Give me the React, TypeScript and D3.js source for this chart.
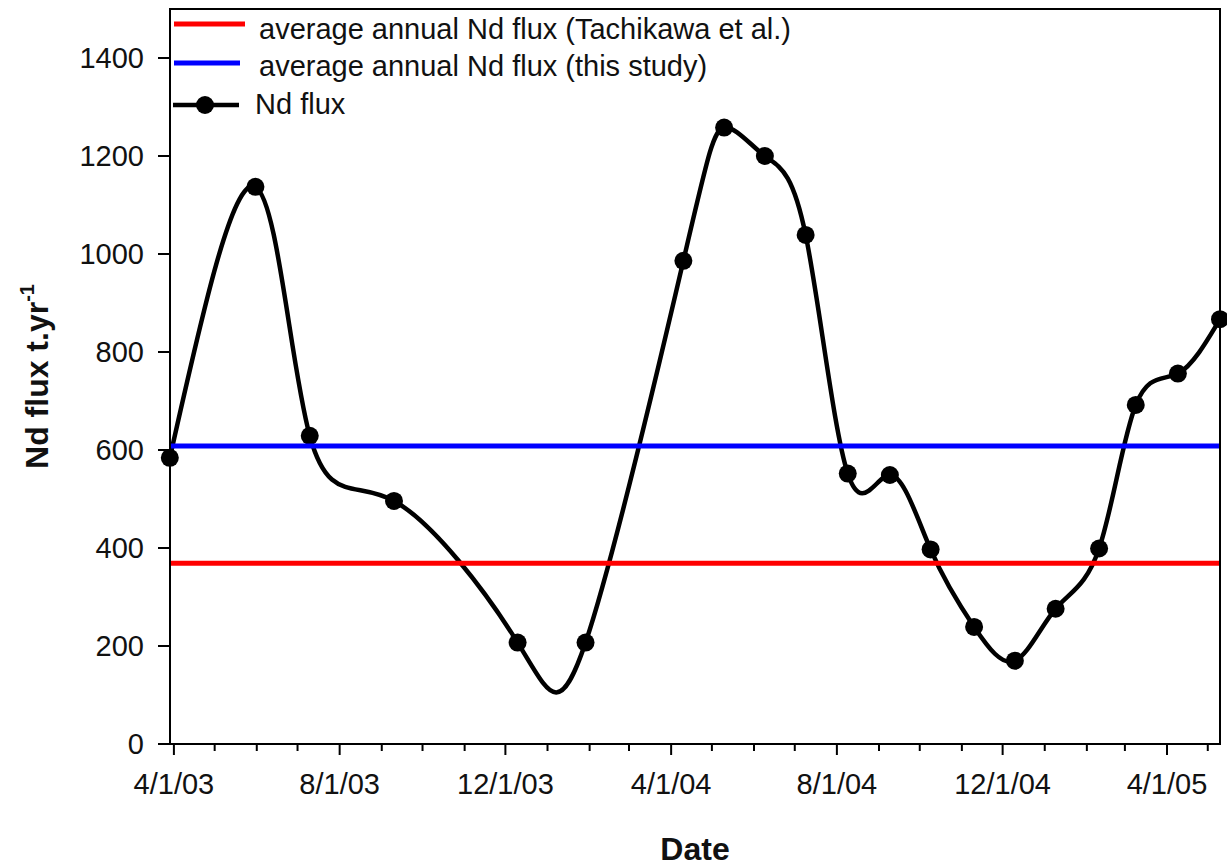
import React from "react";
import * as d3 from "d3";

const dates: string[] = [
  "2003-03-29", "2003-05-31", "2003-07-10", "2003-09-10", "2003-12-10",
  "2004-01-29", "2004-04-10", "2004-05-10", "2004-06-09", "2004-07-09",
  "2004-08-09", "2004-09-09", "2004-10-09", "2004-11-10", "2004-12-10",
  "2005-01-09", "2005-02-10", "2005-03-09", "2005-04-09", "2005-05-10",
];
const ndFlux: number[] = [
  584, 1137, 629, 496, 207, 207, 986, 1258, 1200, 1039,
  552, 549, 397, 239, 170, 276, 399, 692, 756, 867,
];
const avgTachikawa = 369;
const avgThisStudy = 608;
const yTicks: number[] = [0, 200, 400, 600, 800, 1000, 1200, 1400];
const xLabelDates: string[] = ["2003-04-01", "2003-08-01", "2003-12-01", "2004-04-01", "2004-08-01", "2004-12-01", "2005-04-01"];
const legendLabels: string[] = [
  "average annual Nd flux (Tachikawa et al.)",
  "average annual Nd flux (this study)",
  "Nd flux",
];

const W = 1227;
const H = 867;
const L = 170, R = 1220, T = 9, B = 744;
const FONT = "Arial, 'Liberation Sans', Helvetica, sans-serif";

const parse = (s: string) => new Date(s + "T00:00:00Z");

export default function App() {
  const x = d3
    .scaleUtc()
    .domain([new Date("2003-03-29T03:00:00Z"), parse("2005-05-10")])
    .range([L, R]);
  const y = d3.scaleLinear().domain([0, 1500]).range([B, T]);

  const pts = dates.map((d, i) => ({ d: parse(d), v: ndFlux[i] }));
  const line = d3
    .line<{ d: Date; v: number }>()
    .x((p) => x(p.d))
    .y((p) => y(p.v))
    .curve(d3.curveNatural);

  const monthTicks = d3.utcMonth.range(parse("2003-04-01"), parse("2005-05-02"));
  const majorSet = new Set(xLabelDates.map((s) => parse(s).getTime()));
  const fmt = (dt: Date) => `${dt.getUTCMonth() + 1}/${dt.getUTCDate()}/${String(dt.getUTCFullYear()).slice(2)}`;

  return (
    <svg width={W} height={H} style={{ position: "absolute", left: 0, top: 0, background: "#fff" }} fontFamily={FONT}>
      <rect x={0} y={0} width={W} height={H} fill="#fff" />
      {/* curve */}
      <path d={line(pts) || ""} fill="none" stroke="#000" strokeWidth={4.5} strokeLinejoin="round" />
      {pts.map((p, i) => (
        <circle key={i} cx={x(p.d)} cy={y(p.v)} r={9} fill="#000" />
      ))}
      {/* average lines */}
      <line x1={L} x2={R} y1={y(avgThisStudy)} y2={y(avgThisStudy)} stroke="#0000ff" strokeWidth={5} />
      <line x1={L} x2={R} y1={y(avgTachikawa)} y2={y(avgTachikawa)} stroke="#ff0000" strokeWidth={5} />
      {/* frame */}
      <rect x={L} y={T} width={R - L} height={B - T} fill="none" stroke="#000" strokeWidth={2} />
      {/* y axis ticks */}
      {yTicks.map((t) => (
        <g key={t}>
          <line x1={L - 12} x2={L} y1={y(t)} y2={y(t)} stroke="#000" strokeWidth={2} />
          <text x={144} y={y(t)} dy="0.36em" textAnchor="end" fontSize={29} fill="#111">
            {t}
          </text>
        </g>
      ))}
      {/* x axis ticks */}
      {monthTicks.map((m) => {
        const major = majorSet.has(m.getTime());
        return (
          <line key={m.getTime()} x1={x(m)} x2={x(m)} y1={B} y2={B + (major ? 11 : 7)} stroke="#000" strokeWidth={2} />
        );
      })}
      {xLabelDates.map((s) => (
        <text key={s} x={x(parse(s))} y={794} textAnchor="middle" fontSize={29} fill="#111">
          {fmt(parse(s))}
        </text>
      ))}
      {/* axis titles */}
      <text x={(L + R) / 2} y={860} textAnchor="middle" fontSize={32} fontWeight="bold" fill="#111">
        Date
      </text>
      <text transform={`translate(48, ${(T + B) / 2}) rotate(-90)`} textAnchor="middle" fontSize={32} fontWeight="bold" fill="#111">
        Nd flux t.yr<tspan fontSize={20} dy={-14}>-1</tspan>
      </text>
      {/* legend */}
      <line x1={174} x2={245} y1={24} y2={24} stroke="#ff0000" strokeWidth={5} />
      <text x={259} y={39} fontSize={29} fill="#111">{legendLabels[0]}</text>
      <line x1={174} x2={240} y1={63} y2={63} stroke="#0000ff" strokeWidth={5} />
      <text x={259} y={76} fontSize={29} fill="#111">{legendLabels[1]}</text>
      <line x1={173} x2={239} y1={105} y2={105} stroke="#000" strokeWidth={4.5} />
      <circle cx={205} cy={105} r={9} fill="#000" />
      <text x={255} y={114} fontSize={29} fill="#111">{legendLabels[2]}</text>
    </svg>
  );
}
